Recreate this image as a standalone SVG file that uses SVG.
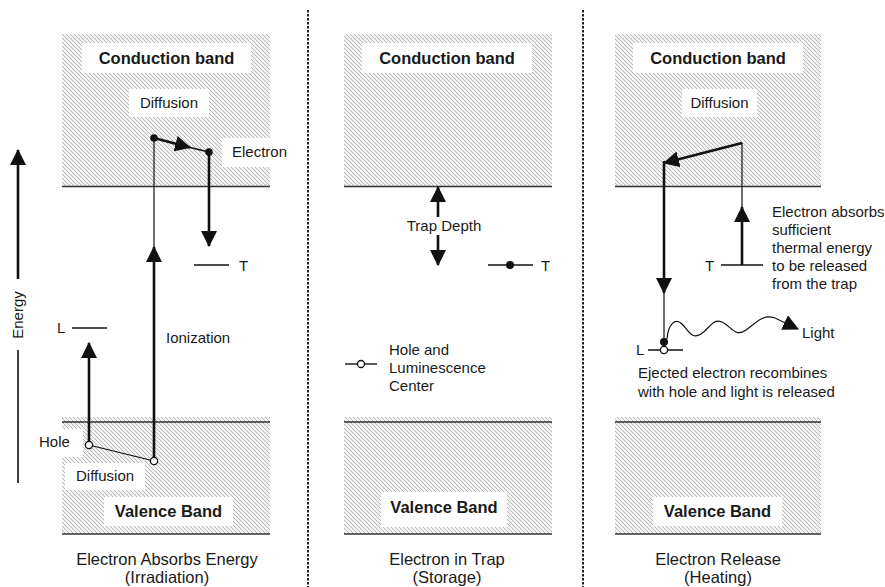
<svg xmlns="http://www.w3.org/2000/svg" width="885" height="587" viewBox="0 0 885 587">
  <defs>
    <pattern id="hatch" patternUnits="userSpaceOnUse" width="4" height="4">
      <rect width="4" height="4" fill="#f3f3f3"/>
      <path d="M-1,-1 L5,5 M-1,3 L1,5 M3,-1 L5,1" stroke="#b8b8b8" stroke-width="1"/>
    </pattern>
    <marker id="head" markerUnits="userSpaceOnUse" markerWidth="16" markerHeight="16" viewBox="0 0 15 15" refX="14" refY="7.5" orient="auto">
      <path d="M0,0 L15,7.5 L0,15 z" fill="#111"/>
    </marker>
  </defs>
  <style>
    text { font-family: "Liberation Sans", Arial, sans-serif; fill: #1a1a1a; }
    .lbl { font-size: 15px; }
    .band { font-size: 16.5px; font-weight: bold; }
    .cap { font-size: 16.5px; text-anchor: middle; }
    .edge { stroke: #333; stroke-width: 1.6; }
    .thick { stroke: #111; stroke-width: 2.6; fill: none; }
    .thin { stroke: #111; stroke-width: 1.2; fill: none; }
    .lvl { stroke: #111; stroke-width: 1.4; }
    .box { fill: #fff; }
    .div { stroke: #222; stroke-width: 2; stroke-dasharray: 2.5 1.5; }
  </style>

  <rect width="885" height="587" fill="#fff"/>

  <!-- panel dividers -->
  <g id="dividers">
    <line class="div" x1="308" y1="10" x2="308" y2="587"/>
    <line class="div" x1="583" y1="10" x2="583" y2="587"/>
  </g>

  <!-- energy axis -->
  <g id="energy-axis">
    <line class="thick" x1="18" y1="279" x2="18" y2="150" stroke-width="2" marker-end="url(#head)"/>
    <line x1="18" y1="350" x2="18" y2="483" stroke="#111" stroke-width="1.6"/>
    <text class="lbl" text-anchor="middle" transform="translate(23,315) rotate(-90)">Energy</text>
  </g>

  <!-- Panel 1: irradiation -->
  <g id="cb1">
    <rect x="62" y="34" width="208" height="152" fill="url(#hatch)"/>
    <line class="edge" x1="62" y1="186.5" x2="270" y2="186.5"/>
    <rect class="box" x="82" y="43" width="169" height="30"/>
    <text class="band" x="166.5" y="63.5" text-anchor="middle">Conduction band</text>
  </g>
  <g id="vb1">
    <rect x="62" y="417" width="208" height="117" fill="url(#hatch)"/>
    <line class="edge" x1="62" y1="422" x2="270" y2="422"/>
    <line class="edge" x1="62" y1="534" x2="270" y2="534"/>
    <rect class="box" x="104" y="497" width="129" height="29"/>
    <text class="band" x="168.5" y="517" text-anchor="middle">Valence Band</text>
  </g>
  <g id="labels1">
    <rect class="box" x="129" y="89" width="80" height="28"/>
    <text class="lbl" x="169" y="108" text-anchor="middle">Diffusion</text>
    <rect class="box" x="222" y="138" width="71" height="29"/>
    <text class="lbl" x="232" y="157">Electron</text>
    <text class="lbl" x="166" y="343">Ionization</text>
    <rect class="box" x="37" y="429" width="46" height="28"/>
    <text class="lbl" x="39" y="447">Hole</text>
    <rect class="box" x="65" y="463" width="80" height="27"/>
    <text class="lbl" x="76" y="481">Diffusion</text>
  </g>
  <g id="levels1">
    <line class="lvl" x1="194" y1="265" x2="229" y2="265"/>
    <text class="lbl" x="239" y="271">T</text>
    <line class="lvl" x1="72" y1="328" x2="107" y2="328"/>
    <text class="lbl" x="57" y="333">L</text>
  </g>
  <g id="connectors1">
    <!-- ionization: hole up to conduction band -->
    <line class="thick" x1="154" y1="461" x2="154" y2="247" marker-end="url(#head)"/>
    <line class="thin" x1="154" y1="247" x2="154" y2="138"/>
    <!-- electron diffusion in conduction band -->
    <line class="thick" x1="154" y1="138" x2="190" y2="147.5" marker-end="url(#head)"/>
    <line x1="188" y1="147" x2="209" y2="152" stroke="#111" stroke-width="1.6"/>
    <!-- electron falls to trap -->
    <line class="thick" x1="209" y1="152" x2="209" y2="246" marker-end="url(#head)"/>
    <!-- hole to luminescence center -->
    <line class="thick" x1="89" y1="445" x2="89" y2="343" marker-end="url(#head)"/>
    <!-- hole diffusion in valence band -->
    <line class="thin" x1="89" y1="445" x2="154" y2="461"/>
    <circle cx="154" cy="138" r="3.8" fill="#111"/>
    <circle cx="209" cy="152" r="3.8" fill="#111"/>
    <circle cx="89" cy="445" r="3.6" fill="#fff" stroke="#111" stroke-width="1.3"/>
    <circle cx="154" cy="461" r="3.6" fill="#fff" stroke="#111" stroke-width="1.3"/>
  </g>
  <g id="caption1">
    <text class="cap" x="167" y="565">Electron Absorbs Energy</text>
    <text class="cap" x="167" y="583">(Irradiation)</text>
  </g>

  <!-- Panel 2: storage -->
  <g id="cb2">
    <rect x="344" y="34" width="208" height="152" fill="url(#hatch)"/>
    <line class="edge" x1="344" y1="186.5" x2="552" y2="186.5"/>
    <rect class="box" x="362" y="43" width="170" height="30"/>
    <text class="band" x="447" y="63.5" text-anchor="middle">Conduction band</text>
  </g>
  <g id="vb2">
    <rect x="344" y="417" width="208" height="117" fill="url(#hatch)"/>
    <line class="edge" x1="344" y1="422" x2="552" y2="422"/>
    <line class="edge" x1="344" y1="534" x2="552" y2="534"/>
    <rect class="box" x="381" y="492" width="126" height="35"/>
    <text class="band" x="444" y="513" text-anchor="middle">Valence Band</text>
  </g>
  <g id="trap-depth">
    <line class="thick" x1="438" y1="217" x2="438" y2="187" marker-end="url(#head)"/>
    <line class="thick" x1="438" y1="235" x2="438" y2="265" marker-end="url(#head)"/>
    <text class="lbl" x="444" y="231" text-anchor="middle">Trap Depth</text>
  </g>
  <g id="trap2">
    <line class="lvl" x1="488" y1="265" x2="533" y2="265"/>
    <circle cx="510" cy="265" r="4" fill="#111"/>
    <text class="lbl" x="541" y="271">T</text>
  </g>
  <g id="center2">
    <line class="lvl" x1="345" y1="364" x2="377" y2="364"/>
    <circle cx="361" cy="364" r="3.5" fill="#fff" stroke="#111" stroke-width="1.3"/>
    <text class="lbl" x="389" y="355">Hole and</text>
    <text class="lbl" x="389" y="373">Luminescence</text>
    <text class="lbl" x="389" y="391">Center</text>
  </g>
  <g id="caption2">
    <text class="cap" x="447" y="565">Electron in Trap</text>
    <text class="cap" x="447" y="583">(Storage)</text>
  </g>

  <!-- Panel 3: heating -->
  <g id="cb3">
    <rect x="615" y="34" width="206" height="152" fill="url(#hatch)"/>
    <line class="edge" x1="615" y1="186.5" x2="821" y2="186.5"/>
    <rect class="box" x="633" y="43" width="170" height="30"/>
    <text class="band" x="718" y="63.5" text-anchor="middle">Conduction band</text>
    <rect class="box" x="682" y="89" width="75" height="28"/>
    <text class="lbl" x="719.5" y="108" text-anchor="middle">Diffusion</text>
  </g>
  <g id="vb3">
    <rect x="615" y="417" width="206" height="117" fill="url(#hatch)"/>
    <line class="edge" x1="615" y1="422" x2="821" y2="422"/>
    <line class="edge" x1="615" y1="534" x2="821" y2="534"/>
    <rect class="box" x="653" y="497" width="129" height="29"/>
    <text class="band" x="717.5" y="517" text-anchor="middle">Valence Band</text>
  </g>
  <g id="levels3">
    <line class="lvl" x1="721" y1="265" x2="763" y2="265"/>
    <text class="lbl" x="705" y="271">T</text>
    <line class="lvl" x1="648" y1="350" x2="683" y2="350"/>
    <text class="lbl" x="636" y="355">L</text>
  </g>
  <g id="connectors3">
    <!-- thermal release from trap -->
    <line class="thick" x1="742" y1="265" x2="742" y2="207" marker-end="url(#head)"/>
    <line class="thin" x1="742" y1="207" x2="742" y2="143"/>
    <!-- diffusion in conduction band -->
    <line class="thick" x1="742" y1="143" x2="664" y2="163" marker-end="url(#head)"/>
    <!-- drop to luminescence center -->
    <line class="thick" x1="664" y1="161" x2="664" y2="293" marker-end="url(#head)"/>
    <line class="thin" x1="664" y1="293" x2="664" y2="342"/>
    <!-- emitted light -->
    <path class="thin" d="M667,339 C668,325 675,317 682,324 S692,340 701,334 S713,318 722,322 S735,338 746,330 S763,314 775,318 L798,329" marker-end="url(#head)"/>
    <circle cx="664" cy="342" r="4" fill="#111"/>
    <circle cx="664" cy="350" r="3.6" fill="#fff" stroke="#111" stroke-width="1.3"/>
  </g>
  <g id="notes3">
    <text class="lbl" x="772" y="217">Electron absorbs</text>
    <text class="lbl" x="772" y="235">sufficient</text>
    <text class="lbl" x="772" y="253">thermal energy</text>
    <text class="lbl" x="772" y="271">to be released</text>
    <text class="lbl" x="772" y="289">from the trap</text>
    <text class="lbl" x="802" y="338">Light</text>
    <text class="lbl" x="638" y="378">Ejected electron recombines</text>
    <text class="lbl" x="638" y="397">with hole and light is released</text>
  </g>
  <g id="caption3">
    <text class="cap" x="718" y="565">Electron Release</text>
    <text class="cap" x="718" y="583">(Heating)</text>
  </g>
</svg>
